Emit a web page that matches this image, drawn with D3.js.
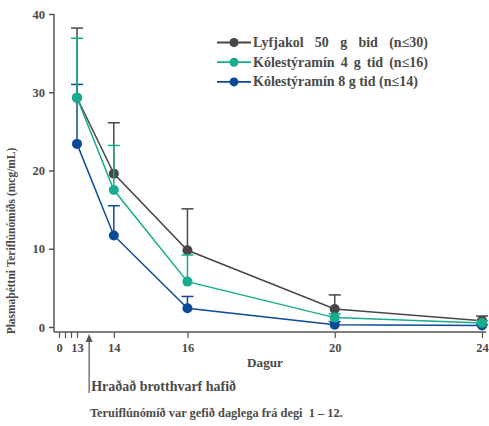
<!DOCTYPE html>
<html><head><meta charset="utf-8">
<script src="https://cdn.jsdelivr.net/npm/d3@7"></script>
<style>
body{margin:0;background:#fff;}
text{font-family:"Liberation Serif","Times New Roman",serif;font-weight:bold;fill:#4a4a4a;}
</style></head>
<body><svg id="c" width="489" height="426"></svg>
<script>
const days = [13, 14, 16, 20, 24];
const seriesNames = ["Lyfjakol 50 g bid (n≤30)", "Kólestýramín 4 g tid (n≤16)", "Kólestýramín 8 g tid (n≤14)"];
const seriesColors = ["#474747", "#16ad8e", "#0b4a9b"];
const lyfjakol = [29.3, 19.6, 9.8, 2.3, 0.8];
const lyfjakolUpper = [38.2, 26.1, 15.1, 4.1, 1.4];
const kol4 = [29.3, 17.5, 5.8, 1.2, 0.5];
const kol4Upper = [36.9, 23.2, 9.2, 1.7, 0.8];
const kol8 = [23.4, 11.7, 2.4, 0.3, 0.2];
const kol8Upper = [31.0, 15.5, 3.9, 0.7, 0.3];
const yTicks = [0, 10, 20, 30, 40];
const xTickValues = [0, 13/3, 26/3, 13, 14, 16, 20, 24];
const xTickLabels = {0: "0", 13: "13", 14: "14", 16: "16", 20: "20", 24: "24"};
const arrowDay = 13.33;

const svg = d3.select("#c");
const x = d3.scaleLinear().domain([0, 13, 24]).range([59, 77, 482]);
const y = d3.scaleLinear().domain([0, 40]).range([327, 14]);

function fit(t, target, base) {
  t.style("font-size", base + "px");
  const w = t.node().getComputedTextLength();
  t.style("font-size", (base * target / w) + "px");
  return t;
}

// y axis
const yAx = svg.append("g").attr("transform", "translate(54,0)")
  .call(d3.axisLeft(y).tickValues(yTicks).tickSize(5).tickPadding(4));
yAx.select(".domain").attr("d", "M0,14V332").attr("stroke", "#555").attr("stroke-width", 1.5);
yAx.selectAll(".tick line").attr("stroke", "#555").attr("stroke-width", 1.5);
yAx.selectAll(".tick text").style("font-size", "12.5px").attr("fill", "#4a4a4a").attr("font-family", null);

// x axis
const xAx = svg.append("g").attr("transform", "translate(0,332)")
  .call(d3.axisBottom(x).tickValues(xTickValues).tickSize(6).tickPadding(5)
    .tickFormat(d => xTickLabels[d] !== undefined ? xTickLabels[d] : ""));
xAx.select(".domain").attr("d", "M54,0H486").attr("stroke", "#555").attr("stroke-width", 1.5);
xAx.selectAll(".tick line").attr("stroke", "#555").attr("stroke-width", 1.2);
xAx.selectAll(".tick text").style("font-size", "12.5px").attr("fill", "#4a4a4a").attr("font-family", null);

const series = [
  {vals: lyfjakol, up: lyfjakolUpper, c: seriesColors[0]},
  {vals: kol4, up: kol4Upper, c: seriesColors[1]},
  {vals: kol8, up: kol8Upper, c: seriesColors[2]}
];
const line = d3.line().x((d, i) => x(days[i])).y(d => y(d));

const order = [0, 2, 1];
order.forEach(si => {
  const s = series[si];
  const g = svg.append("g");
  g.append("path").attr("d", line(s.vals)).attr("fill", "none").attr("stroke", s.c).attr("stroke-width", 1.5);
  s.vals.forEach((v, i) => {
    const cx = x(days[i]);
    g.append("line").attr("x1", cx).attr("x2", cx).attr("y1", y(v)).attr("y2", y(s.up[i]))
      .attr("stroke", s.c).attr("stroke-width", 1.5);
    g.append("line").attr("x1", cx - 6).attr("x2", cx + 6).attr("y1", y(s.up[i])).attr("y2", y(s.up[i]))
      .attr("stroke", s.c).attr("stroke-width", 1.5);
  });
  g.selectAll("circle").data(s.vals).join("circle")
    .attr("cx", (d, i) => x(days[i])).attr("cy", d => y(d)).attr("r", 5).attr("fill", s.c);
});

// legend
const leg = svg.append("g");
seriesNames.forEach((n, i) => {
  const ly = 42.5 + i * 19.7;
  leg.append("line").attr("x1", 217).attr("x2", 251).attr("y1", ly).attr("y2", ly)
    .attr("stroke", seriesColors[i]).attr("stroke-width", 1.8);
  leg.append("circle").attr("cx", 234).attr("cy", ly).attr("r", 4.5).attr("fill", seriesColors[i]);
  leg.append("text").attr("class", "lt").attr("x", 253).attr("y", ly + 4.5).text(n);
});
const lts = leg.selectAll("text.lt").nodes();
fit(d3.select(lts[2]), 165, 14);
const legSize = parseFloat(d3.select(lts[2]).style("font-size"));
[0, 1].forEach(i => {
  const t = d3.select(lts[i]).style("font-size", legSize + "px");
  const w = t.node().getComputedTextLength();
  const spaces = seriesNames[i].split(" ").length - 1;
  t.style("word-spacing", ((175 - w) / spaces) + "px");
});

// axis titles
fit(svg.append("text").attr("transform", "translate(15,241) rotate(-90)").attr("text-anchor", "middle")
  .text("Plasmaþéttni Teriflúnómíðs (mcg/mL)"), 187, 11);
fit(svg.append("text").attr("x", 265).attr("y", 367).attr("text-anchor", "middle").text("Dagur"), 36, 14);

// arrow annotation
const ax = x(arrowDay);
svg.append("line").attr("x1", ax).attr("x2", ax).attr("y1", 338).attr("y2", 393).attr("stroke", "#555").attr("stroke-width", 1.2);
svg.append("path").attr("d", `M${ax},334L${ax-3.5},342L${ax+3.5},342Z`).attr("fill", "#555");
fit(svg.append("text").attr("x", ax + 2).attr("y", 391).text("Hraðað brotthvarf hafið"), 145, 14);

fit(svg.append("text").attr("x", 90).attr("y", 417)
  .attr("xml:space", "preserve").style("white-space", "pre").text("Teruiflúnómíð var gefið daglega frá degi  1 – 12."), 253, 12);
</script></body></html>
